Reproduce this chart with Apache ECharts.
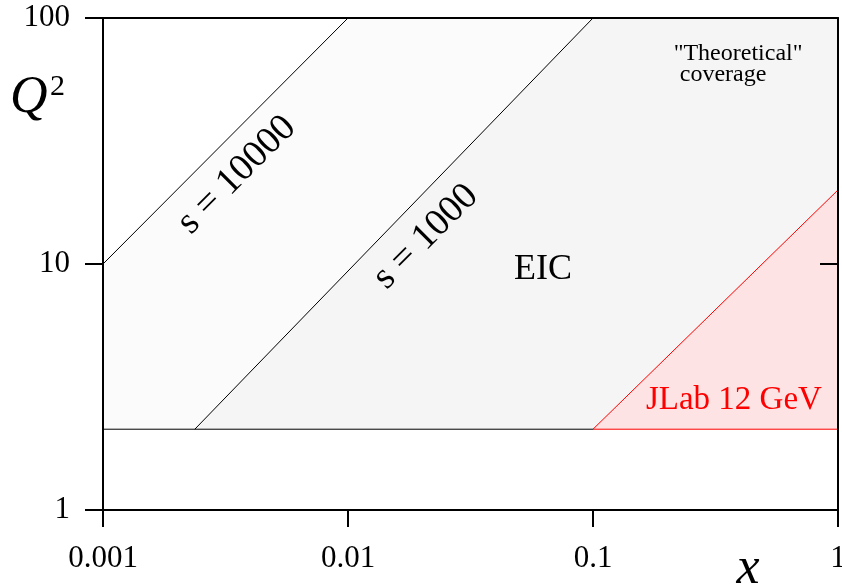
<!DOCTYPE html>
<html><head><meta charset="utf-8">
<script src="https://cdn.jsdelivr.net/npm/echarts@6/dist/echarts.min.js"></script>
<style>html,body{margin:0;padding:0;background:#fff}#c{width:842px;height:585px}</style>
</head><body><div id="c"></div>
<script>
// ---- data ----
const xTickValues = [0.001, 0.01, 0.1, 1];
const xTickLabels = ['0.001', '0.01', '0.1', '1'];
const yTickValues = [1, 10, 100];
const yTickLabels = ['1', '10', '100'];
const qMin = 2.13;
const s10000X = [0.001, 0.01];
const s10000Q = [10, 100];
const s1000X = [0.00237, 0.1];
const s1000Q = [qMin, 100];
const jlabX = [0.1, 1];
const jlabQ = [qMin, 20];
const coverageX = [0.001, 0.001, 0.01, 1, 1];
const coverageQ = [qMin, 10, 100, 100, qMin];
const eicX = [0.00237, 0.1, 1, 1];
const eicQ = [qMin, 100, 100, qMin];
const jlabRegionX = [0.1, 1, 1];
const jlabRegionQ = [qMin, 20, qMin];
const qMinBlackX = [0.001, 0.1];
const qMinRedX = [0.1, 1];
const labelTexts = ['s = 10000', 's = 1000', 'EIC', 'JLab 12 GeV', '"Theoretical"', 'coverage'];
const labelX = [0.00352, 0.0208, 0.0625, 0.376, 0.391, 0.3395];
const labelQ = [23.0, 12.9, 9.45, 2.80, 71.4, 58.7];
const labelRot = [45, 45, 0, 0, 0, 0];

const SERIF = '"Liberation Serif","Times New Roman",serif';
const labelSize = [38, 38, 36, 33, 24, 24];
const labelColor = ['#000', '#000', '#000', '#ff0000', '#000', '#000'];

function polySeries(xs, qs, fill, z) {
  return {
    type: 'custom', coordinateSystem: 'cartesian2d', silent: true, z: z, clip: false,
    data: [[xs[0], qs[0]]],
    renderItem: function (p, api) {
      return { type: 'polygon', shape: { points: xs.map((x, i) => api.coord([x, qs[i]])) },
               style: { fill: fill, stroke: null } };
    }
  };
}
function lineSeries(xs, qs, color, z) {
  return {
    type: 'line', data: xs.map((x, i) => [x, qs[i]]), symbol: 'none', silent: true, z: z,
    lineStyle: { color: color, width: 1 }, animation: false
  };
}

const chart = echarts.init(document.getElementById('c'), null, { renderer: 'canvas' });
const axisLabelFmt = (vals, labs) => (v) => {
  for (let i = 0; i < vals.length; i++) if (Math.abs(Math.log10(v) - Math.log10(vals[i])) < 1e-6) return labs[i];
  return '';
};
chart.setOption({
  animation: false,
  backgroundColor: '#fff',
  grid: { left: 103, right: 4, top: 18, bottom: 75, outerBoundsMode: 'none', containLabel: false },
  xAxis: [{
    type: 'log', logBase: 10, min: 0.001, max: 1, z: 10,
    axisLine: { lineStyle: { color: '#000', width: 2 } },
    axisTick: { length: 17, lineStyle: { color: '#000', width: 2 } },
    minorTick: { show: false }, splitLine: { show: false },
    axisLabel: { fontFamily: SERIF, fontSize: 31, color: '#000', margin: 33, hideOverlap: false,
                 formatter: axisLabelFmt(xTickValues, xTickLabels) }
  }, {
    type: 'log', logBase: 10, min: 0.001, max: 1, position: 'top', z: 10,
    axisLine: { lineStyle: { color: '#000', width: 2 } },
    axisTick: { show: false }, axisLabel: { show: false }, splitLine: { show: false }
  }],
  yAxis: [{
    type: 'log', logBase: 10, min: 1, max: 100, z: 10,
    axisLine: { lineStyle: { color: '#000', width: 2 } },
    axisTick: { length: 18, lineStyle: { color: '#000', width: 2 } },
    splitLine: { show: false },
    axisLabel: { fontFamily: SERIF, fontSize: 31, color: '#000', margin: 33,
                 formatter: axisLabelFmt(yTickValues, yTickLabels) }
  }, {
    type: 'log', logBase: 10, min: 1, max: 100, position: 'right', z: 10,
    axisLine: { lineStyle: { color: '#000', width: 2 } },
    axisTick: { inside: true, length: 18, lineStyle: { color: '#000', width: 2 } },
    axisLabel: { show: false }, splitLine: { show: false }
  }],
  series: [
    polySeries(coverageX, coverageQ, '#fbfbfb', 1),
    polySeries(eicX, eicQ, '#f5f5f5', 2),
    polySeries(jlabRegionX, jlabRegionQ, '#fde3e3', 3),
    lineSeries(s10000X, s10000Q, '#000', 4),
    lineSeries(s1000X, s1000Q, '#000', 4),
    lineSeries(qMinBlackX, [qMin, qMin], '#000', 4),
    lineSeries(qMinRedX, [qMin, qMin], '#ff0000', 5),
    lineSeries(jlabX, jlabQ, '#ff0000', 5),
    {
      type: 'custom', coordinateSystem: 'cartesian2d', silent: true, z: 6, clip: false,
      data: labelTexts.map((t, i) => [labelX[i], labelQ[i], i]),
      renderItem: function (p, api) {
        const i = api.value(2);
        const pt = api.coord([api.value(0), api.value(1)]);
        return { type: 'text', x: pt[0], y: pt[1], rotation: labelRot[i] * Math.PI / 180,
                 style: { text: labelTexts[i], font: labelSize[i] + 'px ' + SERIF, fill: labelColor[i],
                          align: 'center', verticalAlign: 'middle' } };
      }
    }
  ],
  graphic: [
    { type: 'text', x: 10, y: 98, style: { text: 'Q', font: 'italic 52px ' + SERIF, fill: '#000', align: 'left', verticalAlign: 'middle' } },
    { type: 'text', x: 50, y: 87, style: { text: '2', font: '30px ' + SERIF, fill: '#000', align: 'left', verticalAlign: 'middle' } },
    { type: 'text', x: 748, y: 569, style: { text: 'x', font: 'italic 52px ' + SERIF, fill: '#000', align: 'center', verticalAlign: 'middle' } }
  ]
});
</script></body></html>
